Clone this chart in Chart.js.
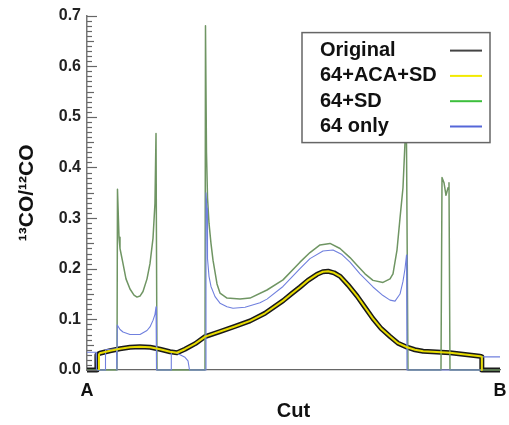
<!DOCTYPE html>
<html>
<head>
<meta charset="utf-8">
<title>13CO/12CO along the cut</title>
<script src="https://cdn.jsdelivr.net/npm/chart.js@4.4.1/dist/chart.umd.min.js"></script>
<style>
	html, body { margin: 0; padding: 0; background: #fff; }
	#wrap { width: 509px; height: 425px; }
</style>
</head>
<body>
<div id="wrap"><canvas id="ratioChart"></canvas></div>
<script>
// position along the cut, A = 0 and B = 100
const origX = [0, 2.4, 2.4, 3.1, 5.6, 8.0, 10.4, 12.8, 15.3, 17.7, 20.1, 21.8, 23.7, 26.2, 28.6, 32.2, 35.8, 39.5, 43.1, 47.5, 49.6, 51.6, 53.5, 55.7, 57.1, 58.4, 59.8, 61.3, 63.2, 65.4, 67.3, 69.2, 71.2, 73.4, 75.3, 77.5, 79.4, 81.4, 87.9, 95.2, 95.6, 95.6, 100];
const origY = [0, 0, 0.030, 0.033, 0.038, 0.042, 0.045, 0.046, 0.045, 0.041, 0.036, 0.034, 0.041, 0.052, 0.066, 0.076, 0.086, 0.097, 0.112, 0.137, 0.151, 0.164, 0.177, 0.189, 0.194, 0.195, 0.192, 0.185, 0.168, 0.146, 0.124, 0.102, 0.082, 0.066, 0.053, 0.045, 0.040, 0.037, 0.034, 0.027, 0.026, 0, 0];

const acaX = [2.9, 2.9, 3.1, 5.6, 8.0, 10.4, 12.8, 15.3, 17.7, 20.1, 21.8, 23.7, 26.2, 28.6, 32.2, 35.8, 39.5, 43.1, 47.5, 49.6, 51.6, 53.5, 55.7, 57.1, 58.4, 59.8, 61.3, 63.2, 65.4, 67.3, 69.2, 71.2, 73.4, 75.3, 77.5, 79.4, 81.4, 87.9, 95.2, 95.6, 95.6];
const acaY = [0, 0.031, 0.033, 0.038, 0.042, 0.045, 0.046, 0.045, 0.041, 0.036, 0.034, 0.041, 0.052, 0.066, 0.076, 0.086, 0.097, 0.112, 0.137, 0.151, 0.164, 0.177, 0.189, 0.194, 0.195, 0.192, 0.185, 0.168, 0.146, 0.124, 0.102, 0.082, 0.066, 0.053, 0.045, 0.040, 0.037, 0.034, 0.027, 0.026, 0];

const sdX = [0, 7.26, 7.38, 7.75, 7.99, 8.72, 9.44, 10.41, 11.38, 12.11, 12.83, 13.56, 14.53, 15.25, 15.98, 16.46, 16.71, 16.95, 28.57, 28.69, 28.93, 29.18, 29.54, 30.02, 30.51, 31.48, 32.2, 33.9, 37.05, 39.47, 43.58, 47.46, 51.57, 53.99, 56.42, 58.84, 61.26, 63.68, 65.38, 67.31, 69.25, 71.67, 73.37, 74.09, 75.06, 75.79, 76.51, 77.0, 77.24, 77.72, 85.71, 85.96, 86.44, 86.92, 87.41, 87.65, 87.89, 100];
const sdY = [0, 0, 0.357, 0.262, 0.240, 0.210, 0.180, 0.160, 0.148, 0.144, 0.146, 0.155, 0.180, 0.210, 0.260, 0.330, 0.467, 0, 0, 0.680, 0.430, 0.340, 0.290, 0.250, 0.217, 0.170, 0.152, 0.142, 0.140, 0.142, 0.158, 0.178, 0.213, 0.232, 0.247, 0.250, 0.240, 0.222, 0.207, 0.190, 0.177, 0.173, 0.180, 0.190, 0.237, 0.300, 0.360, 0.450, 0.600, 0, 0, 0.380, 0.370, 0.345, 0.360, 0.370, 0, 0];

const only64X = [0, 2.18, 2.30, 4.36, 4.48, 7.14, 7.22, 7.26, 7.33, 7.99, 8.72, 10.41, 12.83, 14.53, 15.25, 15.98, 16.46, 16.71, 16.83, 20.34, 20.41, 21.55, 22.52, 23.73, 24.46, 24.82, 28.69, 28.81, 29.06, 29.18, 29.54, 30.02, 31.0, 32.2, 33.9, 35.35, 38.26, 41.89, 43.58, 47.46, 51.57, 53.99, 57.14, 59.56, 61.74, 63.68, 66.1, 69.25, 71.67, 73.37, 74.58, 75.79, 76.51, 77.0, 77.36, 77.48, 95.64, 95.71, 100];
const only64Y = [0.035, 0.035, 0, 0, 0.040, 0.042, 0, 0, 0.089, 0.080, 0.075, 0.070, 0.070, 0.078, 0.085, 0.098, 0.110, 0.125, 0, 0, 0.035, 0.034, 0.030, 0.025, 0.018, 0, 0, 0.350, 0.320, 0.220, 0.185, 0.165, 0.145, 0.132, 0.125, 0.122, 0.124, 0.133, 0.140, 0.165, 0.200, 0.220, 0.235, 0.237, 0.228, 0.213, 0.190, 0.164, 0.147, 0.138, 0.136, 0.150, 0.175, 0.200, 0.227, 0, 0, 0.026, 0.026];

const yTickLabels = ['0.0', '0.1', '0.2', '0.3', '0.4', '0.5', '0.6', '0.7'];
const endLabels = ['A', 'B'];

function toPoints(xs, ys) {
	return xs.map((x, i) => ({ x: x, y: ys[i] }));
}

// inner tick marks on the y axis, every 0.01
const innerTicks = {
	id: 'innerTicks',
	afterDraw(chart) {
		const ys = chart.scales.y;
		const ctx = chart.ctx;
		ctx.save();
		ctx.strokeStyle = '#666';
		ctx.lineWidth = 1.2;
		for (let v = 0; v <= 70; v++) {
			const py = Math.round(ys.getPixelForValue(v / 100)) + 0.5;
			const len = v % 10 === 0 ? 10 : (v % 5 === 0 ? 7 : 5);
			ctx.beginPath();
			ctx.moveTo(ys.right, py);
			ctx.lineTo(ys.right + len, py);
			ctx.stroke();
		}
		ctx.restore();
	}
};

// boxed legend: label on the left, line sample on the right
const boxLegend = {
	id: 'boxLegend',
	afterDatasetsDraw(chart) {
		const ctx = chart.ctx;
		const area = chart.chartArea;
		const w = 188, h = 110;
		const bx = area.right - 10 - w, by = area.top + 17;
		ctx.save();
		ctx.fillStyle = '#fff';
		ctx.fillRect(bx, by, w, h);
		ctx.strokeStyle = '#666';
		ctx.lineWidth = 1.5;
		ctx.strokeRect(bx, by, w, h);
		ctx.font = 'bold 20px "Liberation Sans", Arial, sans-serif';
		ctx.textBaseline = 'middle';
		ctx.fillStyle = '#111';
		chart.data.datasets.forEach((ds, i) => {
			const cy = by + 18 + i * 25.3;
			ctx.fillText(ds.label, bx + 18, cy);
			ctx.strokeStyle = ds.legendColor;
			ctx.lineWidth = 2;
			ctx.beginPath();
			ctx.moveTo(bx + 148, cy);
			ctx.lineTo(bx + 180, cy);
			ctx.stroke();
		});
		ctx.restore();
	}
};

document.addEventListener('DOMContentLoaded', function () {
	const ctx = document.getElementById('ratioChart').getContext('2d');
	const chart = new Chart(ctx, {
		type: 'line',
		data: {
			datasets: [
				{
					label: 'Original',
					data: toPoints(origX, origY),
					borderColor: '#1a1a1a',
					legendColor: '#444',
					borderWidth: 5,
					order: 4
				},
				{
					label: '64+ACA+SD',
					data: toPoints(acaX, acaY),
					borderColor: '#e8dc00',
					legendColor: '#f2ea00',
					borderWidth: 2,
					order: 1
				},
				{
					label: '64+SD',
					data: toPoints(sdX, sdY),
					borderColor: '#6f9563',
					legendColor: '#3cbf3c',
					borderWidth: 1.5,
					order: 3
				},
				{
					label: '64 only',
					data: toPoints(only64X, only64Y),
					borderColor: '#7080de',
					legendColor: '#5566d8',
					borderWidth: 1.1,
					order: 2
				}
			]
		},
		options: {
			responsive: true,
			maintainAspectRatio: false,
			animation: false,
			layout: { padding: { top: 15, right: 9, left: 0, bottom: 0 } },
			elements: {
				point: { radius: 0 },
				line: { tension: 0, borderJoinStyle: 'round', fill: false }
			},
			datasets: { line: { clip: 8 } },
			plugins: {
				legend: { display: false },
				tooltip: { enabled: false }
			},
			scales: {
				x: {
					type: 'linear',
					min: 0,
					max: 100,
					grid: { display: false, drawTicks: false },
					border: { display: true, color: '#666', width: 1.2 },
					ticks: {
						stepSize: 100,
						autoSkip: false,
						maxRotation: 0,
						padding: 10,
						color: '#111',
						font: { family: '"Liberation Sans", Arial, sans-serif', size: 18, weight: 'bold' },
						callback: function (value) {
							if (value === 0) return endLabels[0];
							if (value === 100) return endLabels[1];
							return '';
						}
					},
					title: {
						display: true,
						text: 'Cut',
						color: '#111',
						font: { family: '"Liberation Sans", Arial, sans-serif', size: 20, weight: 'bold' },
						padding: { top: 0, bottom: 2 }
					},
					afterFit: function (scale) {
						scale.height = 55;
						// A and B may hang over the plot edges
						scale.paddingLeft = 0;
						scale.paddingRight = 0;
					}
				},
				y: {
					min: 0,
					max: 0.7,
					grid: { display: false, drawTicks: false },
					border: { display: true, color: '#777', width: 1.5 },
					ticks: {
						stepSize: 0.1,
						padding: 6,
						color: '#222',
						font: { family: '"Liberation Sans", Arial, sans-serif', size: 16, weight: 'bold' },
						callback: function (value) {
							const i = Math.round(value * 10);
							return yTickLabels[i];
						}
					},
					title: {
						display: true,
						text: '¹³CO/¹²CO',
						color: '#111',
						font: { family: '"Liberation Sans", Arial, sans-serif', size: 21, weight: 'bold' },
						padding: { top: 15, bottom: 0 }
					},
					afterFit: function (scale) { scale.width = 87; }
				}
			}
		},
		plugins: [innerTicks, boxLegend]
	});
});
</script>
</body>
</html>
